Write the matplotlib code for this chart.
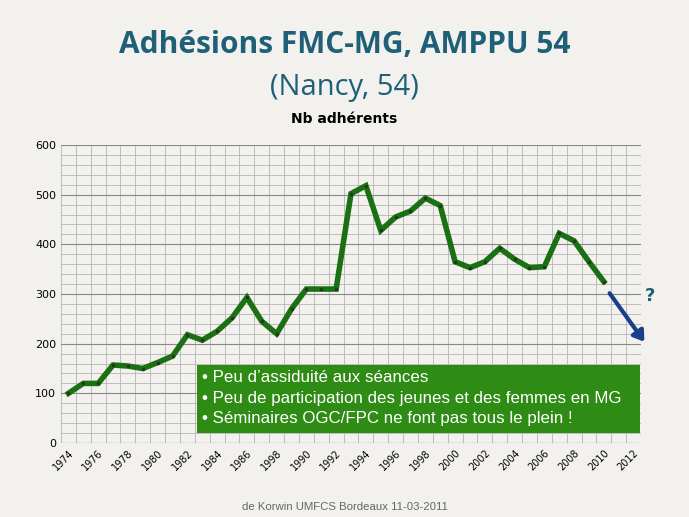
import matplotlib
matplotlib.use("Agg")
import matplotlib.pyplot as plt
from matplotlib.patches import FancyArrowPatch, Rectangle
import numpy as np

years = list(range(1974, 2013))
values = [100, 120, 120, 157, 155, 150, 162, 175, 218, 207, 225, 252, 293, 245, 220,
          270, 310, 310, 310, 502, 518, 428, 455, 467, 493, 478, 365, 353, 365, 392,
          370, 353, 355, 422, 407, 365, 325]
tick_labels = ["1974", "1976", "1978", "1980", "1982", "1984", "1986", "1998", "1990",
               "1992", "1994", "1996", "1998", "2000", "2002", "2004", "2006", "2008",
               "2010", "2012"]
notes = ["• Peu d’assiduité aux séances",
         "• Peu de participation des jeunes et des femmes en MG",
         "• Séminaires OGC/FPC ne font pas tous le plein !"]

W, H = 689, 517
fig = plt.figure(figsize=(W/100, H/100), dpi=100)
fig.patch.set_facecolor("#f2f1ed")

ax = fig.add_axes([61/W, 1-443/H, 580/W, 298/H])
ax.set_facecolor("#f2f1ed")
x = np.arange(len(values))
ax.set_xlim(-0.5, len(years)-0.5)
ax.set_ylim(0, 600)
ax.set_xticks(np.arange(0, len(years), 2))
ax.set_xticklabels(tick_labels, rotation=45, ha="right", rotation_mode="anchor", fontsize=7)
ax.set_xticks(np.arange(len(years)+1)-0.5, minor=True)
ax.set_yticks(np.arange(0, 601, 100))
ax.set_yticks(np.arange(0, 601, 20), minor=True)
ax.tick_params(axis="y", labelsize=8, length=0)
ax.tick_params(which="both", length=0)
ax.grid(True, which="major", axis="y", color="#888888", lw=0.8)
ax.grid(True, which="minor", color="#b5b5b5", lw=0.6)
for s in ax.spines.values():
    s.set_visible(False)
ax.axhline(0, color="#888888", lw=0.8)
ax.plot(x, values, color="#1a7012", lw=4, solid_joinstyle="miter", zorder=3)
ax.plot(x, values, ls="none", marker="o", ms=1.5, color="#1f3a1a", zorder=4)

fig.text(0.5, 1-45/H, "Adhésions FMC-MG, AMPPU 54", ha="center", va="center",
         fontsize=21.5, fontweight="bold", color="#1f6078", family="Open Sans")
fig.text(0.5, 1-87/H, "(Nancy, 54)", ha="center", va="center", fontsize=21,
         color="#1f6078", family="Open Sans")
fig.text(0.5, 1-119/H, "Nb adhérents", ha="center", va="center", fontsize=10, fontweight="bold")
fig.text(0.5, 1-507/H, "de Korwin UMFCS Bordeaux 11-03-2011", ha="center", va="center",
         fontsize=8.2, color="#666666", family="Liberation Sans")

fig.patches.append(Rectangle((197/W, 1-433/H), 443/W, 68/H, transform=fig.transFigure,
                             facecolor="#2e8b14", edgecolor="none", zorder=5))
for i, t in enumerate(notes):
    fig.text(202/W, 1-(378+20*i)/H, t, ha="left", va="center", fontsize=12.2,
             color="white", zorder=6, family="Liberation Sans")

fig.patches.append(FancyArrowPatch((608/W, 1-291/H), (646/W, 1-344/H), transform=fig.transFigure,
                                   arrowstyle="-|>,head_length=6,head_width=4", mutation_scale=1,
                                   color="#1a3f8a", lw=3, zorder=6))
fig.text(650/W, 1-296/H, "?", ha="center", va="center", fontsize=13, fontweight="bold",
         color="#1f6078")

fig.savefig("out.png", dpi=100, facecolor=fig.get_facecolor())
